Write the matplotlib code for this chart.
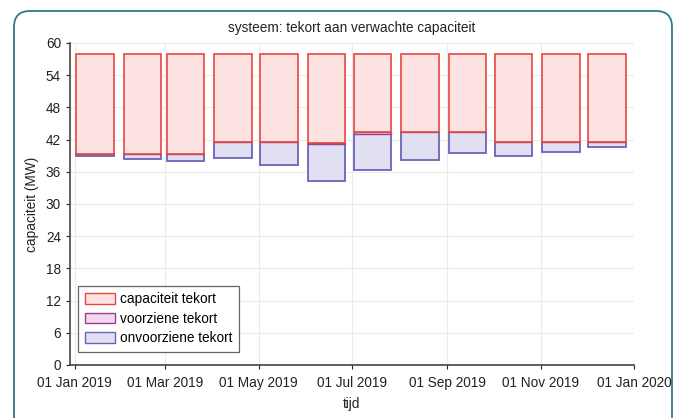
import datetime
import matplotlib
matplotlib.use("Agg")
import matplotlib.pyplot as plt
import matplotlib.dates as mdates
from matplotlib.patches import FancyBboxPatch, Patch

plt.rcParams['font.family'] = ['Liberation Sans', 'DejaVu Sans']

# monthly data (MW)
months = [datetime.date(2019, m, 1) for m in range(1, 13)]
capaciteit_top = [58, 58, 58, 58, 58, 58, 58, 58, 58, 58, 58, 58]
capaciteit_bottom = [39.4, 39.4, 39.4, 41.5, 41.5, 41.4, 43.4, 43.5, 43.5, 41.5, 41.5, 41.5]
voorziene = [0, 0, 0, 0, 0, 0.3, 0.3, 0, 0, 0, 0, 0]
onvoorziene_bottom = [39.0, 38.4, 38.0, 38.5, 37.2, 34.3, 36.3, 38.2, 39.5, 39.0, 39.7, 40.6]
xticks = [datetime.date(2019, m, 1) for m in (1, 3, 5, 7, 9, 11)] + [datetime.date(2020, 1, 1)]

red_edge, red_fill = '#e8463f', '#fde4e3'
purple_edge, purple_fill = '#9b3f8f', '#f3d9ee'
blue_edge, blue_fill = '#6b63b5', '#e0e0f2'
fs = 9.8

fig = plt.figure(figsize=(6.83, 4.18), dpi=100)
frame = FancyBboxPatch((14, -30), 658, 407 + 30, boxstyle="round,pad=0,rounding_size=16",
                       transform=None, facecolor='white', edgecolor='#2c7c88', linewidth=1.3,
                       zorder=-1)
fig.patches.append(frame)

ax = fig.add_axes([70 / 683, 1 - 365 / 418, 564 / 683, 322 / 418])
ax.set_facecolor('none')

start = [mdates.date2num(m) + 1 for m in months]
width = 24.5
voor_bottom = [c - v for c, v in zip(capaciteit_bottom, voorziene)]
ax.bar(start, [b - o for b, o in zip(voor_bottom, onvoorziene_bottom)], width=width,
       bottom=onvoorziene_bottom, align='edge', color=blue_fill, edgecolor=blue_edge, linewidth=1.3, zorder=3)
ax.bar(start, voorziene, width=width, bottom=voor_bottom, align='edge',
       color=purple_fill, edgecolor=purple_edge, linewidth=1.0, zorder=3)
ax.bar(start, [t - b for t, b in zip(capaciteit_top, capaciteit_bottom)], width=width,
       bottom=capaciteit_bottom, align='edge', color=red_fill, edgecolor=red_edge, linewidth=1.2, zorder=4)

ax.set_xlim(mdates.date2num(datetime.date(2018, 12, 29)), mdates.date2num(datetime.date(2020, 1, 1)))
ax.set_ylim(0, 60)
ax.set_yticks(range(0, 61, 6))
ax.set_xticks([mdates.date2num(d) for d in xticks])
ax.xaxis.set_major_formatter(mdates.DateFormatter('%d %b %Y'))
ax.tick_params(labelsize=fs, colors='#222222', length=3, width=0.8)
ax.tick_params(axis='x', pad=5)
ax.grid(True, color='#ebebeb', linewidth=0.8, zorder=0)
ax.set_axisbelow(True)
for s in ('top', 'right'):
    ax.spines[s].set_visible(False)
for s in ('left', 'bottom'):
    ax.spines[s].set_color('#444444')
    ax.spines[s].set_linewidth(1.2)

ax.set_title('systeem: tekort aan verwachte capaciteit', fontsize=fs, color='#222222', pad=8)
ax.set_ylabel('capaciteit (MW)', fontsize=fs, color='#222222', labelpad=5)
ax.set_xlabel('tijd', fontsize=fs, color='#222222', labelpad=5)

handles = [Patch(facecolor=red_fill, edgecolor=red_edge, label='capaciteit tekort'),
           Patch(facecolor=purple_fill, edgecolor=purple_edge, label='voorziene tekort'),
           Patch(facecolor=blue_fill, edgecolor=blue_edge, label='onvoorziene tekort')]
leg = ax.legend(handles=handles, loc='lower left', bbox_to_anchor=(0.014, 0.04), borderaxespad=0,
                fontsize=fs, fancybox=False, framealpha=1, edgecolor='#666666', handlelength=2.2,
                handleheight=0.8, labelspacing=0.4, borderpad=0.5, handletextpad=0.4)
leg.get_frame().set_linewidth(0.9)
leg.set_zorder(5)

fig.savefig('out.png', dpi=100)
